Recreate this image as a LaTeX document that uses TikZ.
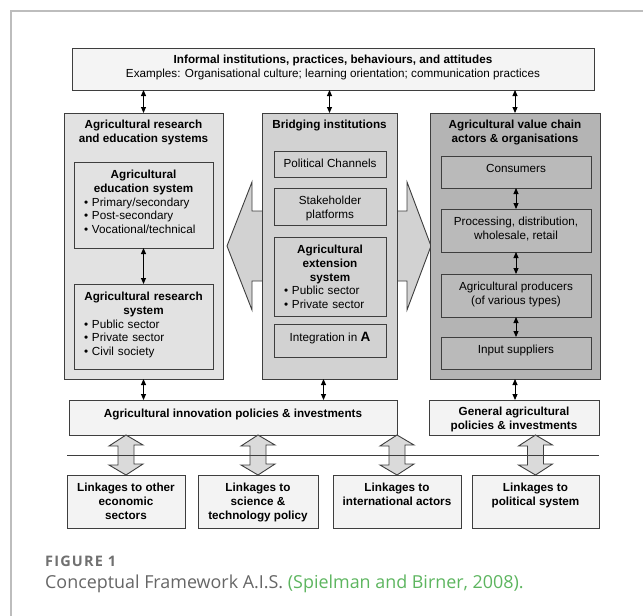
\documentclass[tikz,border=0pt]{standalone}
\usepackage{fontspec}
\setmainfont{Liberation Sans}
\newfontfamily\capfont{Open Sans}
\newfontfamily\figfont[LetterSpace=8]{Open Sans}
\usepackage{xcolor}
\usetikzlibrary{arrows.meta, positioning, calc}
\definecolor{linegray}{HTML}{3E3E3E}
\definecolor{framegray}{HTML}{BDBDBD}
\definecolor{topfill}{HTML}{F4F4F4}
\definecolor{leftfill}{HTML}{E2E2E2}
\definecolor{midfill}{HTML}{D2D2D2}
\definecolor{rightfill}{HTML}{B4B4B4}
\definecolor{rinfill}{HTML}{BABABA}
\definecolor{lowfill}{HTML}{F3F3F3}
\definecolor{arrowfill}{HTML}{DADADA}
\definecolor{capgray}{HTML}{666666}
\definecolor{figgray}{HTML}{707070}
\definecolor{capgreen}{HTML}{5DB55F}
\tikzset{
  box/.style={draw=linegray, line width=1pt, inner sep=0pt, outer sep=0pt, anchor=north west},
  txt/.style={inner sep=0pt, align=center, font=\fontsize{11.7}{13.7}\selectfont},
  hd/.style={inner sep=0pt, align=center, font=\fontsize{11.7}{13.7}\selectfont\bfseries},
  dbl/.style={{Triangle[length=6pt,width=5pt]}-{Triangle[length=6pt,width=5pt]}, line width=0.9pt, black},
  fat/.style={draw=linegray, line width=0.9pt, fill=arrowfill},
}
\newcommand{\linkarrow}[2]{\draw[fat] (#1.south -| #2.north) -- ++(17,10) -- ++(-9,0) -- ++(0,19) -- ++(9,0) -- (#2.north) -- ++(-17,-10) -- ++(9,0) -- ++(0,-19) -- ++(-9,0) -- cycle;}
\begin{document}
\begin{tikzpicture}[x=1pt, y=-1pt]
\useasboundingbox (0,0) rectangle (643,616);
\draw[framegray, line width=1.3pt] (11,616) -- (11,11) -- (643,11);

% top box
\node[box, fill=topfill, minimum width=522pt, minimum height=42pt] (inf) at (72,48) {};
\node[txt, below=7pt of inf.north] (inftxt) {\textbf{Informal institutions, practices, behaviours, and attitudes}\\Examples: Organisational culture; learning orientation; communication practices};

% double arrow behind the bridging column
\draw[linegray, line width=0.9pt, fill=midfill] (227,246) -- (252,182) -- (252,211) -- (407,211) -- (407,182) -- (431,246) -- (407,310) -- (407,281) -- (252,281) -- (252,310) -- cycle;

% columns
\node[box, fill=leftfill, minimum width=159pt, minimum height=266pt] (lcol) at (64,113) {};
\node[box, fill=midfill, minimum width=135pt, minimum height=266pt] (mcol) at (262,113) {};
\node[box, fill=rightfill, minimum width=170pt, minimum height=266pt] (rcol) at (430,113) {};
\node[hd, below=7pt of lcol.north] (ltitle) {Agricultural research\\and education systems};
\node[hd, below=7pt of mcol.north] (mtitle) {Bridging institutions};
\node[hd, below=7pt of rcol.north] (rtitle) {Agricultural value chain\\actors \& organisations};

% left column
\node[box, fill=leftfill, minimum width=139pt, minimum height=86pt] (edu) at (74,162) {};
\node[txt, text width=119pt, align=left, below=8pt of edu.north] (edutxt) {{\centering\bfseries Agricultural\\education system\par}\textbullet\ Primary/secondary\\\textbullet\ Post-secondary\\\textbullet\ Vocational/technical};
\node[box, fill=leftfill, minimum width=139pt, minimum height=85pt] (res) at (74,284) {};
\node[txt, text width=119pt, align=left, below=8pt of res.north] (restxt) {{\centering\bfseries Agricultural research\\system\par}\textbullet\ Public sector\\\textbullet\ Private sector\\\textbullet\ Civil society};

% middle column
\node[box, fill=midfill, minimum width=112pt, minimum height=26pt] (pol) at (274,151) {};
\node[txt, below=8pt of pol.north] (poltxt) {Political Channels};
\node[box, fill=midfill, minimum width=112pt, minimum height=37pt] (stake) at (274,188) {};
\node[txt, below=8pt of stake.north] (staketxt) {Stakeholder\\platforms};
\node[box, fill=midfill, minimum width=112pt, minimum height=79pt] (ext) at (274,237) {};
\node[txt, text width=92pt, align=left, below=8pt of ext.north] (exttxt) {{\centering\bfseries Agricultural\\extension\\system\par}\textbullet\ Public sector\\\textbullet\ Private sector};
\node[box, fill=midfill, minimum width=112pt, minimum height=33pt] (integ) at (274,324) {};
\node[txt, below=8pt of integ.north] (integtxt) {Integration in \textbf{\fontsize{13.5}{13.7}\selectfont A}};

% right column
\node[box, fill=rinfill, minimum width=150pt, minimum height=32pt] (cons) at (441,156) {};
\node[txt, below=8pt of cons.north] (constxt) {Consumers};
\node[box, fill=rinfill, minimum width=150pt, minimum height=43pt] (proc) at (441,209) {};
\node[txt, below=8pt of proc.north] (proctxt) {Processing, distribution,\\wholesale, retail};
\node[box, fill=rinfill, minimum width=150pt, minimum height=43pt] (prod) at (441,274) {};
\node[txt, below=8pt of prod.north] (prodtxt) {Agricultural producers\\(of various types)};
\node[box, fill=rinfill, minimum width=150pt, minimum height=32pt] (inp) at (441,337) {};
\node[txt, below=8pt of inp.north] (inptxt) {Input suppliers};

% policies
\node[box, fill=lowfill, minimum width=328pt, minimum height=35pt] (innov) at (69,400) {};
\node[hd, below=9pt of innov.north] (innovtxt) {Agricultural innovation policies \& investments};
\node[box, fill=lowfill, minimum width=170pt, minimum height=35pt] (gen) at (429,400) {};
\node[hd, below=7pt of gen.north] (gentxt) {General agricultural\\policies \& investments};

% linkages
\node[box, fill=lowfill, minimum width=118pt, minimum height=53pt] (econ) at (67,475) {};
\node[hd, below=8pt of econ.north] (econtxt) {Linkages to other\\economic\\sectors};
\node[box, fill=lowfill, minimum width=120pt, minimum height=53pt] (sci) at (198,475) {};
\node[hd, below=8pt of sci.north] (scitxt) {Linkages to\\science \&\\technology policy};
\node[box, fill=lowfill, minimum width=128pt, minimum height=53pt] (intl) at (333,475) {};
\node[hd, below=8pt of intl.north] (intltxt) {Linkages to\\international actors};
\node[box, fill=lowfill, minimum width=127pt, minimum height=53pt] (polsys) at (472,475) {};
\node[hd, below=8pt of polsys.north] (polsystxt) {Linkages to\\political system};

\linkarrow{innov}{econ}
\linkarrow{innov}{sci}
\linkarrow{innov}{intl}
\linkarrow{gen}{polsys}
\draw[linegray, line width=0.9pt] (67,455) -- (599,455);

% small arrows
\coordinate (mbot) at ([xshift=-6pt]mcol.south);
\draw
(inf.south -| lcol.north) edge[dbl] (lcol.north)
(inf.south -| mcol.north) edge[dbl] (mcol.north)
(inf.south -| rcol.north) edge[dbl] (rcol.north)
(edu.south) edge[dbl] (res.north)
(cons.south) edge[dbl] (proc.north)
(proc.south) edge[dbl] (prod.north)
(prod.south) edge[dbl] (inp.north)
(lcol.south) edge[dbl] (lcol.south |- innov.north)
(mbot) edge[dbl] (mbot |- innov.north)
(rcol.south) edge[dbl] (gen.north -| rcol.south);

% caption
\node[inner sep=0pt, anchor=west, text=figgray, font=\figfont\bfseries\fontsize{14.5}{16}\selectfont] (fig) at (45,561) {FIGURE 1};
\node[inner sep=0pt, anchor=west, text=capgray, font=\capfont\fontsize{17.9}{20}\selectfont] (cap) at (45,584) {Conceptual Framework A.I.S. \textcolor{capgreen}{(Spielman and Birner, 2008).}};
\end{tikzpicture}
\end{document}
